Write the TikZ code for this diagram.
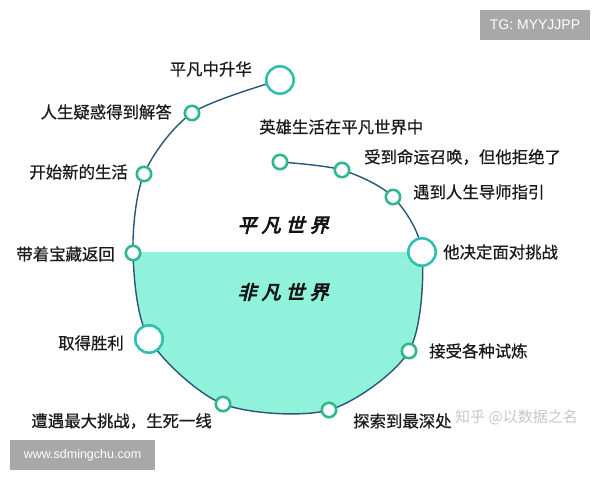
\documentclass[tikz,border=0pt]{standalone}
\usepackage{fontspec}
\newfontfamily\cjk[FakeBold=0.6]{Noto Sans CJK SC}
\newfontfamily\cjkwm{Noto Sans CJK SC}
\newfontfamily\cjkti[FakeSlant=0.25,FakeBold=4]{Noto Sans CJK SC}
\newfontfamily\wmfont{Liberation Sans}
\usetikzlibrary{backgrounds}
\definecolor{mint}{HTML}{90F2DA}
\definecolor{pathc}{HTML}{2A5575}
\definecolor{bigc}{HTML}{2EBFB0}
\definecolor{smallc}{HTML}{2FB68C}
\definecolor{wmgray}{HTML}{A8A8A8}
\definecolor{txt}{HTML}{1A1A1A}
\begin{document}
\begin{tikzpicture}[x=1pt,y=-1pt,
  bigdot/.style={circle,draw=bigc,line width=2.6pt,fill=white,minimum size=27.4pt,inner sep=0pt},
  smalldot/.style={circle,draw=smallc,line width=2.6pt,fill=white,minimum size=14.4pt,inner sep=0pt},
  lbl/.style={font=\cjk\fontsize{16.4}{18}\selectfont,inner sep=0pt,text=txt},
  lblL/.style={lbl,anchor=east},
  lblR/.style={lbl,anchor=west},
  worldtitle/.style={font=\cjkti\fontsize{19}{21}\selectfont,inner sep=0pt,text=black!92},
  wmbox/.style={fill=wmgray,text=white,inner sep=0pt,font=\wmfont\fontsize{14}{16}\selectfont}]
\useasboundingbox (0,0) rectangle (600,480);
% stages
\node[smalldot] (n1) at (280,162) {};
\node[smalldot] (n2) at (342,170) {};
\node[smalldot] (n3) at (393,197) {};
\node[bigdot] (n4) at (422,252) {};
\node[smalldot] (n5) at (409,351) {};
\node[smalldot] (n6) at (329,410) {};
\node[smalldot] (n7) at (223,404) {};
\node[bigdot] (n8) at (149,339) {};
\node[smalldot] (n9) at (133,253) {};
\node[smalldot] (n10) at (144,174) {};
\node[smalldot] (n11) at (192,113) {};
\node[bigdot] (n12) at (280,80) {};
\begin{scope}[on background layer]
  \begin{scope}
    \clip (0,252) rectangle (600,480);
    \fill[mint] plot[smooth] coordinates {(n1.center) (n2.center) (n3.center) (n4.center) (n5.center) (n6.center) (n7.center) (n8.center) (n9.center) (n10.center) (n11.center) (n12.center)} -- cycle;
  \end{scope}
  \draw[pathc,line width=1.4pt] plot[smooth] coordinates {(n1.center) (n2.center) (n3.center) (n4.center) (n5.center) (n6.center) (n7.center) (n8.center) (n9.center) (n10.center) (n11.center) (n12.center)};
\end{scope}
% labels
\node[lblL] (l12) at (252,69) {平凡中升华};
\node[lblL] (l11) at (172,112) {人生疑惑得到解答};
\node[lblL] (l10) at (128,172) {开始新的生活};
\node[lblL] (l9) at (115,254) {带着宝藏返回};
\node[lblL] (l8) at (124,343) {取得胜利};
\node[lblL] (l7) at (212,421) {遭遇最大挑战，生死一线};
\node[lblR] (l6) at (353,421) {探索到最深处};
\node[lblR] (l5) at (429,351) {接受各种试炼};
\node[lblR] (l4) at (443,252) {他决定面对挑战};
\node[lblR] (l3) at (413,192) {遇到人生导师指引};
\node[lblR] (l2) at (364,157) {受到命运召唤，但他拒绝了};
\node[lblR] (l1) at (259,127) {英雄生活在平凡世界中};
% worlds
\node[worldtitle] (w1) at (283,225) {平\hspace{5pt}凡\hspace{5pt}世\hspace{5pt}界};
\node[worldtitle] (w2) at (283,292) {非\hspace{5pt}凡\hspace{5pt}世\hspace{5pt}界};
% watermarks
\node[wmbox,minimum width=110pt,minimum height=30pt] (tg) at (535,25) {TG: MYYJJPP};
\node[wmbox,minimum width=145pt,minimum height=30pt,font=\wmfont\fontsize{12.5}{14}\selectfont] (www) at (82.5,455) {www.sdmingchu.com};
\node[anchor=west,inner sep=0pt,text=black!22,font=\cjkwm\fontsize{15}{17}\selectfont] (zh) at (455,417) {知乎 @以数据之名};
\end{tikzpicture}
\end{document}
